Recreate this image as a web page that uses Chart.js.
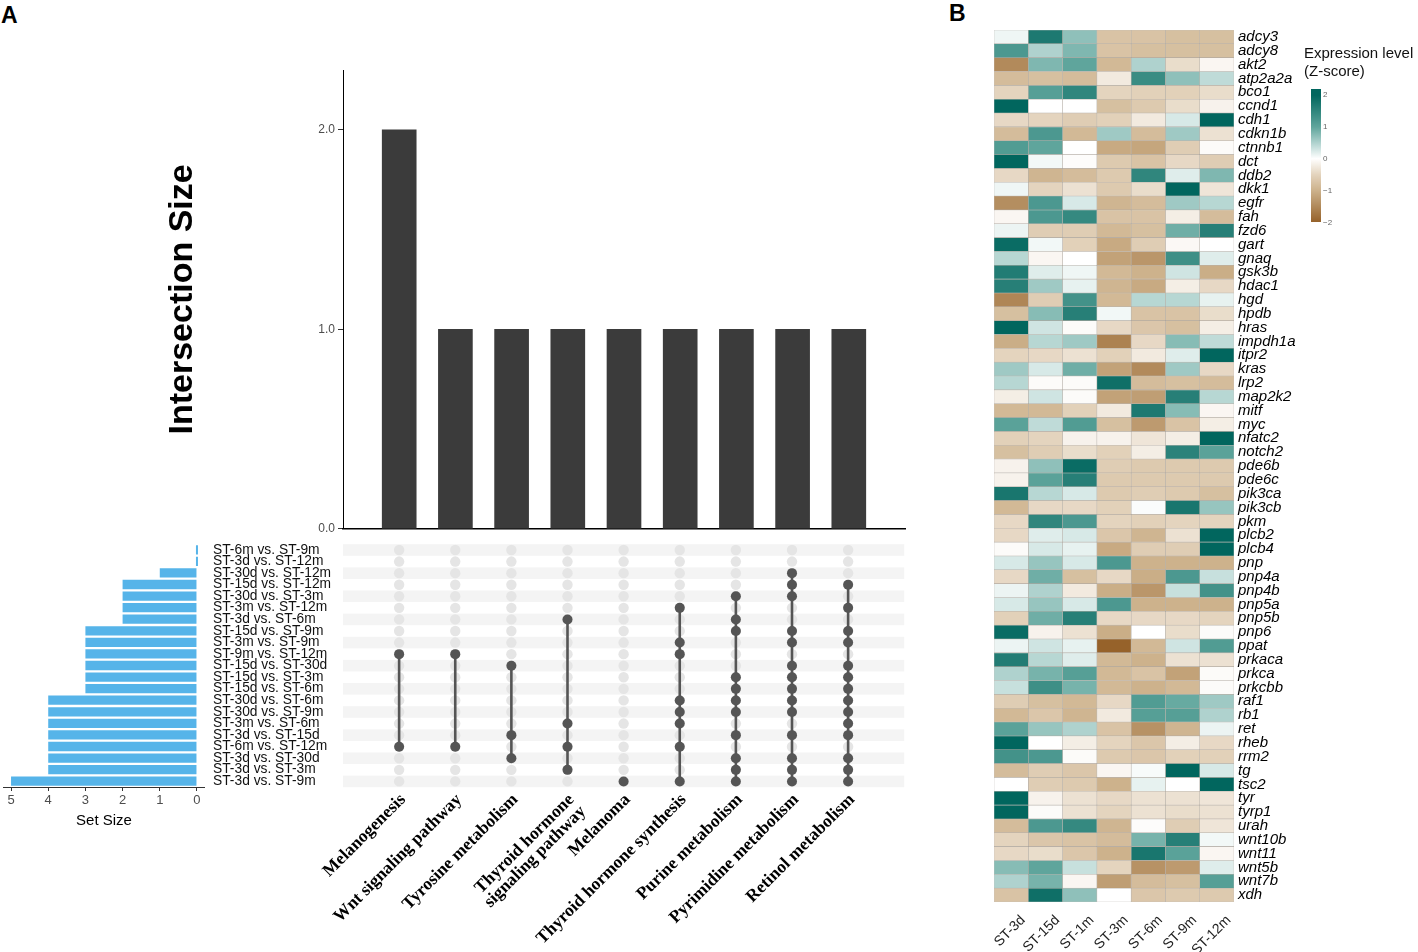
<!DOCTYPE html>
<html><head><meta charset="utf-8">
<script src="https://cdn.jsdelivr.net/npm/chart.js@4.4.1/dist/chart.umd.min.js"></script>
<style>
html,body{margin:0;padding:0;background:#fff;width:1418px;height:952px;overflow:hidden;font-family:"Liberation Sans",Arial,sans-serif;}
.abs{position:absolute;}
canvas{display:block;position:absolute;}
.panel{position:absolute;font-weight:bold;font-size:23px;color:#000;}
</style></head><body>
<div class="panel" style="left:1px;top:2px;">A</div>
<div class="panel" style="left:949px;top:0px;">B</div>
<canvas id="cInter" width="770" height="484" style="left:150px;top:55px;width:770px;height:484px;"></canvas>
<canvas id="cSet" width="345" height="320" style="left:0px;top:515px;width:345px;height:320px;"></canvas>
<canvas id="cMatrix" width="620" height="417" style="left:300px;top:535px;width:620px;height:417px;"></canvas>
<canvas id="cHeat" width="375" height="952" style="left:940px;top:0px;width:375px;height:952px;"></canvas>
<div id="legend" class="abs" style="left:1303px;top:44px;width:115px;height:200px;"></div>
<script>
// ---------------- DATA ----------------
const pathways = ['Melanogenesis','Wnt signaling pathway','Tyrosine metabolism',['Thyroid hormone','signaling pathway'],'Melanoma','Thyroid hormone synthesis','Purine metabolism','Pyrimidine metabolism','Retinol metabolism'];
const intersectionSizes = [2,1,1,1,1,1,1,1,1];
const comparisons = ['ST-6m vs. ST-9m','ST-3d vs. ST-12m','ST-30d vs. ST-12m','ST-15d vs. ST-12m','ST-30d vs. ST-3m','ST-3m vs. ST-12m','ST-3d vs. ST-6m','ST-15d vs. ST-9m','ST-3m vs. ST-9m','ST-9m vs. ST-12m','ST-15d vs. ST-30d','ST-15d vs. ST-3m','ST-15d vs. ST-6m','ST-30d vs. ST-6m','ST-30d vs. ST-9m','ST-3m vs. ST-6m','ST-3d vs. ST-15d','ST-6m vs. ST-12m','ST-3d vs. ST-30d','ST-3d vs. ST-3m','ST-3d vs. ST-9m'];
const setSizes = [0,0,1,2,2,2,2,3,3,3,3,3,3,4,4,4,4,4,4,4,5];
// row indices (into comparisons) that belong to each pathway column
const memberRows = [
  [9,17],
  [9,17],
  [10,16,18],
  [6,15,17,19],
  [20],
  [5,8,9,13,14,15,17,20],
  [4,6,7,11,12,13,14,16,18,19,20],
  [2,3,4,7,8,10,11,12,13,14,16,18,19,20],
  [3,5,7,8,10,11,12,13,14,15,16,18,19,20]
];
const samples = ['ST-3d','ST-15d','ST-1m','ST-3m','ST-6m','ST-9m','ST-12m'];
const genes = ['adcy3','adcy8','akt2','atp2a2a','bco1','ccnd1','cdh1','cdkn1b','ctnnb1','dct','ddb2','dkk1','egfr','fah','fzd6','gart','gnaq','gsk3b','hdac1','hgd','hpdb','hras','impdh1a','itpr2','kras','lrp2','map2k2','mitf','myc','nfatc2','notch2','pde6b','pde6c','pik3ca','pik3cb','pkm','plcb2','plcb4','pnp','pnp4a','pnp4b','pnp5a','pnp5b','pnp6','ppat','prkaca','prkca','prkcbb','raf1','rb1','ret','rheb','rrm2','tg','tsc2','tyr','tyrp1','urah','wnt10b','wnt11','wnt5b','wnt7b','xdh'];
const z_ST3d = [0.1,1.2,-1.5,-0.85,-0.5,2.0,-0.45,-0.85,1.15,2.0, -0.45,0.1,-1.45,-0.1,0.12,1.9,0.45,1.65,1.6,-1.55, -0.8,2.0,-1.05,-0.5,0.6,0.45,-0.2,-0.9,1.05,-0.55, -0.8,-0.15,-0.15,1.75,-0.9,-0.45,-0.45,-0.05,0.25,-0.45, 0.12,0.25,-0.55,1.9,0.12,1.65,0.5,0.35,-0.6,-0.9, 1.05,2.0,1.3,-0.85,0,2.0,2.0,-0.85,-0.5,-0.45, 0.75,0.5,-0.75];
const z_ST15d = [1.7,0.5,0.8,-0.8,1.1,0,-0.5,1.2,1.0,0.08, -0.95,-0.5,1.2,1.2,-0.6,0.08,-0.1,0.2,0.6,-0.6, 0.75,0.3,0.45,-0.45,0.25,-0.05,0.3,-0.9,0.4,-0.5, -0.6,0.7,1.05,0.45,-0.45,1.5,0.2,0.25,0.65,0.9, 0.5,0.65,0.9,-0.15,0.3,0.45,0.85,1.35,-0.8,-0.7, 0.65,0,1.2,-0.6,-0.6,-0.15,-0.05,1.2,-0.7,-0.4, 1.0,0.85,1.85];
const z_ST1m = [0.7,0.8,1.0,-0.85,1.5,0,-0.6,-0.9,0,-0.03, -0.85,-0.35,0.25,1.45,-0.6,-0.55,0,0.1,0.15,1.3, 1.6,-0.05,0.6,-0.35,0.9,-0.05,-0.05,-0.55,1.15,-0.15, -0.4,1.9,1.6,0.25,-0.45,1.2,0.25,0.15,0.25,-0.8, -0.25,0.25,1.6,-0.35,0.15,0.2,1.1,0.85,-0.9,-0.95, 0.5,-0.2,-0.05,-0.7,-0.65,-0.35,-0.35,1.45,-0.75,-0.7, 0.35,-0.1,0.7];
const z_ST3m = [-0.75,-0.75,-0.9,-0.25,-0.5,-0.8,-0.55,0.6,-1.1,-0.65, -0.65,-0.65,-0.95,-0.75,-0.9,-1.1,-1.2,-0.9,-0.95,-0.9, 0.08,-0.45,-1.6,-0.55,-1.2,1.85,-1.2,-0.25,-0.8,-0.15, -0.55,-0.6,-0.65,-0.65,-0.55,-0.5,-0.7,-1.1,1.2,-0.45, -1.05,1.2,-0.45,-1.05,-2.0,-0.9,-0.9,-0.9,-0.45,-0.25, -0.75,-0.5,-0.65,-0.1,-1.0,-0.45,-0.5,-0.95,-0.85,-1.0, -0.5,-1.25,0];
const z_ST6m = [-0.75,-0.8,0.5,1.4,-0.55,-0.65,-0.25,-0.85,-1.15,-0.75, 1.5,-0.4,-0.85,-0.75,-0.8,-0.6,-1.35,-1.0,-1.1,0.45, -0.75,-0.7,-0.45,-0.25,-1.5,-0.85,-1.25,1.7,-1.3,-0.3, -0.2,-0.65,-0.65,-0.6,0.03,-0.55,-0.95,-0.6,-1.0,-1.05, -1.35,-1.0,-0.45,0,-0.9,-1.0,-0.75,-1.0,1.15,1.1, -1.4,-0.7,-0.7,0.05,0.15,-0.35,-0.35,-0.03,0.85,1.75, -1.4,-0.85,-0.7];
const z_ST9m = [-0.8,-0.8,-0.4,0.7,-0.55,-0.4,0.25,0.6,-0.6,-0.45, 0.2,2.0,0.6,-0.2,0.9,-0.08,1.35,0.3,-0.2,0.45, -0.75,-0.8,0.75,0.2,0.6,-0.8,1.6,0.75,-0.75,-0.2, 1.55,-0.65,-0.65,-0.65,1.75,-0.5,-0.35,-0.6,-1.0,1.2, 0.35,-1.0,-0.45,-0.4,0.3,-0.35,-1.2,-0.9,0.95,1.1, -0.95,-0.2,-0.55,2.0,0,-0.35,-0.4,-0.6,1.6,1.05, -1.3,-0.8,-0.65];
const z_ST12m = [-0.8,-0.8,-0.1,0.4,-0.4,-0.15,2.0,-0.35,-0.05,-0.6, 0.8,-0.3,0.45,-0.85,1.6,0,0.2,-1.05,-0.45,0.15, -0.4,-0.2,0.4,2.0,-0.45,-0.85,0.45,-0.1,-0.2,2.0, 1.05,-0.65,-0.65,-0.8,0.65,-0.5,2.0,2.0,-1.0,0.35, 1.3,-1.0,-0.5,-0.05,1.15,-0.35,-0.05,-0.05,0.6,0.5, 0.12,-0.45,-0.55,0.25,2.0,-0.3,-0.35,-0.3,0.08,-0.1, 0.2,1.1,-0.65];
const legendTicks = [2,1,0,-1,-2];

// ---------------- HELPERS ----------------
Chart.defaults.font.family = '"Liberation Sans", Arial, sans-serif';
Chart.defaults.animation = false;
Chart.defaults.plugins.legend.display = false;
Chart.defaults.plugins.tooltip.enabled = false;

const colorStops = [[-2,[150,98,42]],[-1,[205,178,140]],[-0.5,[228,212,190]],[0,[255,255,255]],[0.5,[175,210,206]],[1,[95,165,156]],[2,[1,102,94]]];
function zColor(z){
  z = Math.max(-2, Math.min(2, z));
  for (let i=0;i<colorStops.length-1;i++){
    const [a,ca]=colorStops[i],[b,cb]=colorStops[i+1];
    if (z>=a && z<=b){
      const t=(z-a)/(b-a);
      const c=ca.map((v,k)=>Math.round(v+(cb[k]-v)*t));
      return `rgb(${c[0]},${c[1]},${c[2]})`;
    }
  }
  return '#fff';
}

// ---------------- INTERSECTION SIZE BARS ----------------
new Chart(document.getElementById('cInter'), {
  type:'bar',
  data:{datasets:[{data: intersectionSizes.map((v,i)=>({x:i+1,y:v})), backgroundColor:'#3b3b3b', barThickness:34}]},
  options:{
    responsive:false,
    layout:{padding:{left:12.6,top:15,right:15,bottom:4}},
    scales:{
      x:{type:'linear',min:0,max:10,offset:false,ticks:{display:false},grid:{display:false,offset:false,drawTicks:false},border:{display:true,color:'#000',width:1.6},afterFit(s){s.height=0;}},
      y:{min:0,max:2.3,
        ticks:{stepSize:1,includeBounds:false,callback:v=>Number(v).toFixed(1),color:'#4d4d4d',font:{size:12},padding:3},
        grid:{display:true,drawOnChartArea:false,tickLength:5,color:'#333'},
        border:{display:true,color:'#000',width:1},
        title:{display:true,text:'Intersection Size',font:{size:34,weight:'bold'},color:'#000',padding:0},
        afterFit(s){s.width=180.4;}}
    }
  }
});

// ---------------- SET SIZE BARS ----------------
new Chart(document.getElementById('cSet'), {
  type:'bar',
  data:{labels:comparisons, datasets:[{data:setSizes, backgroundColor:'#56B4E9', barPercentage:0.8, categoryPercentage:1, minBarLength:2}]},
  options:{
    indexAxis:'y', responsive:false,
    layout:{padding:{left:3.6,top:29,right:0,bottom:0}},
    scales:{
      x:{type:'linear',reverse:true,min:-0.2,max:5.2,
        ticks:{stepSize:1,includeBounds:false,color:'#4d4d4d',font:{size:13},padding:2},
        grid:{display:true,drawOnChartArea:false,tickLength:4,color:'#333'},
        border:{display:true,color:'#333',width:1},
        title:{display:true,text:'Set Size',font:{size:15},color:'#000',padding:{top:0,bottom:5}},
        afterFit(s){s.height=48;}},
      y:{position:'right',offset:true,
        ticks:{autoSkip:false,color:'#111',font:{size:13.8},padding:8.6},
        grid:{display:false,drawTicks:false},border:{display:false},
        afterFit(s){s.width=140.6;}}
    }
  }
});

// ---------------- MATRIX ----------------
const stripePlugin = {
  id:'stripes',
  beforeDatasetsDraw(chart){
    const {ctx, chartArea, scales:{y}} = chart;
    ctx.save();
    ctx.fillStyle = '#f4f4f4';
    comparisons.forEach((c,i)=>{
      if (i%2===0){
        const y0=y.getPixelForValue(i-0.5), y1=y.getPixelForValue(i+0.5);
        ctx.fillRect(chartArea.left, Math.min(y0,y1), chartArea.right-chartArea.left, Math.abs(y1-y0));
      }
    });
    ctx.restore();
  }
};
const gridPoints = [];
pathways.forEach((p,ci)=>comparisons.forEach((c,ri)=>gridPoints.push({x:ci+1,y:ri})));
const matrixDatasets = [];
memberRows.forEach((rows,ci)=>{
  matrixDatasets.push({data:rows.map(r=>({x:ci+1,y:r})), showLine:true, borderColor:'#555', borderWidth:2.6, pointRadius:5, pointBackgroundColor:'#555', pointBorderColor:'#555', pointBorderWidth:0, order:0});
});
matrixDatasets.push({data:gridPoints, pointRadius:5.2, pointBackgroundColor:'#e5e5e5', pointBorderColor:'#e5e5e5', pointBorderWidth:0, showLine:false, order:1});
new Chart(document.getElementById('cMatrix'), {
  type:'scatter',
  data:{datasets:matrixDatasets},
  options:{
    responsive:false,
    layout:{padding:{left:43,top:9.2,right:15,bottom:0}},
    scales:{
      x:{type:'linear',min:0,max:10,
        ticks:{stepSize:1,autoSkip:false,minRotation:45,maxRotation:45,padding:4,labelOffset:4,
          color:'#000',font:{family:'"Liberation Serif","Times New Roman",serif',size:17.5,weight:'bold',lineHeight:0.95},
          callback:v=>(v>=1&&v<=pathways.length)?pathways[v-1]:''},
        grid:{display:false,drawTicks:false},border:{display:false},
        afterFit(s){s.height=164.8;}},
      y:{type:'linear',min:-0.5,max:20.5,reverse:true,display:false}
    }
  },
  plugins:[stripePlugin]
});

// ---------------- HEATMAP ----------------
const zColumns = [z_ST3d,z_ST15d,z_ST1m,z_ST3m,z_ST6m,z_ST9m,z_ST12m];
new Chart(document.getElementById('cHeat'), {
  type:'bar',
  data:{labels:genes, datasets: samples.map((s,j)=>({label:s, data:genes.map(()=>[j,j+1]),
     backgroundColor:zColumns[j].map(zColor), borderColor:'rgba(150,140,130,0.55)', borderWidth:0.6, borderSkipped:false,
     barPercentage:1, categoryPercentage:1, grouped:false}))},
  options:{
    indexAxis:'y', responsive:false,
    layout:{padding:{left:54,top:30,right:0,bottom:0}},
    scales:{
      x:{type:'linear',min:0,max:7,display:false},
      x2:{type:'category',labels:samples,position:'bottom',offset:true,
        ticks:{minRotation:45,maxRotation:45,color:'#222',font:{size:14},padding:10,labelOffset:12},
        grid:{display:false,drawTicks:false},border:{display:false},
        afterFit(s){s.height=50;}},
      y:{position:'right',offset:true,
        ticks:{autoSkip:false,color:'#000',font:{size:15,style:'italic'},padding:4},
        grid:{display:false,drawTicks:false},border:{display:false},
        afterFit(s){s.width=81;}}
    }
  }
});

// ---------------- COLOUR LEGEND ----------------
(function(){
  const lg = document.getElementById('legend');
  const t = document.createElement('div');
  t.style.cssText='position:absolute;left:1px;top:0;font-size:15px;line-height:18px;color:#111;white-space:nowrap;';
  t.innerHTML='Expression level<br>(Z-score)';
  lg.appendChild(t);
  const stops=[];
  for (let v=2.2; v>=-2.0001; v-=0.1) stops.push(zColor(v));
  const bar=document.createElement('div');
  bar.style.cssText='position:absolute;left:8px;top:45px;width:10px;height:133px;background:linear-gradient(to bottom,'+stops.join(',')+');';
  lg.appendChild(bar);
  legendTicks.forEach(v=>{
    const d=document.createElement('div');
    d.style.cssText='position:absolute;left:20px;font-size:8px;color:#666;line-height:8px;top:'+(47+(2-v)*32)+'px;';
    d.textContent=(v<0?'\u2212':'')+Math.abs(v);
    lg.appendChild(d);
  });
})();
</script>
</body></html>
